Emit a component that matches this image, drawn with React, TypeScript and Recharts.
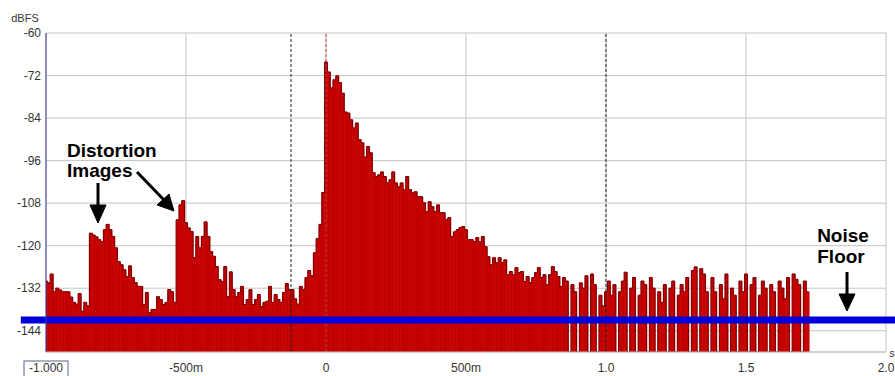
import { ComposedChart, Bar, Line, XAxis, YAxis, CartesianGrid, ReferenceLine } from 'recharts'

// sample grid of the impulse response (seconds)
const T0 = -1.0
const DT = 0.01

// level per 10 ms slot, dBFS (-150 = below the floor)
const preNoise = [-130, -130.5, -128, -133, -132, -132.5, -133, -133, -133, -134.5, -136, -136.5, -133.5, -138.5, -136, -137]
const firstImage = [
  -116.5, -117, -117.5, -118.3, -118.9, -115.5, -114, -115.5, -117.4, -120.6, -124.5, -125.4, -126.8, -128.7, -125.7,
  -129, -130.4, -131.5, -131.5, -136.6, -133.2, -138.9, -138, -138, -134.4, -135.2, -136.6, -136, -132.4, -133, -136,
]
const secondImage = [
  -112.7, -108.5, -107.3, -113.5, -115, -116, -123.4, -117.4, -120.6, -117.4, -113.3, -117.4, -121.7, -123, -125.9,
  -129.6, -130.1, -125.9, -134.4, -127.4, -132.4, -134.4, -133.2, -131.5, -136.6, -135.2, -132.4, -136.6, -135.2,
  -133.8, -137.2, -136, -135.7, -131.5, -136, -133.8, -135.2, -136, -133.2, -130.7, -132.4,
]
const preOnset = [-132.4, -135, -136.5, -131.5, -132.4, -129, -127, -128.5, -122, -118, -114, -105]
const mainDecay = [
  -68.2, -71, -75.5, -73.2, -72.1, -74, -77, -82.3, -82.6, -84.5, -86.8, -85.4, -90.1, -91, -95, -92, -93.8, -99.4,
  -100.5, -100, -99.2, -100.5, -102.3, -101.4, -99.2, -102.3, -103.4, -102.3, -104.2, -100.5, -104.2, -105.1, -104.8,
  -106.2, -106.2, -107.9, -110.4, -107.6, -109, -110.4, -108.5, -110.7,
]
const lateDecay = [
  -110.7, -112.7, -112.1, -117.4, -116.1, -115.5, -114.9, -114.6, -115.5, -118.3, -118.3, -118.9, -117.7, -118.9,
  -117.4, -120.3, -123.1, -125.4, -123.4, -124.8, -123.4, -124.8, -124, -128.2, -127.3, -128.2, -126.2, -127.6, -127.3,
  -130.1, -128.7, -130.4, -129, -127.6, -126.2, -129, -128.2, -131, -128.2, -125.9, -127.3, -128.7,
]
const noiseTail = [
  -131.5, -129, -130, -150, -131, -133, -150, -130.5, -132, -128.5, -150, -128, -131, -150, -134, -137, -133, -130,
  -134, -131, -150, -133, -130, -127.5, -150, -132, -129, -150, -134, -130, -131, -150, -129, -132, -150, -133, -136,
  -131, -150, -132, -130, -150, -134, -131, -133, -129, -150, -127, -126, -150, -126.5, -128, -133, -150, -129, -133,
  -150, -131, -135, -128, -150, -132, -134, -150, -130, -133, -128, -150, -131, -129, -150, -134, -130, -132, -150,
  -131, -133, -150, -130, -132, -135, -129, -150, -128, -129.5, -131, -150, -130, -133,
]

const levels = [...preNoise, ...firstImage, ...secondImage, ...preOnset, ...mainDecay, ...lateDecay, ...noiseTail]
const data = levels.map((v, i) => ({ t: +(T0 + i * DT).toFixed(2), v }))

const FLOOR = -150
const NOISE_FLOOR = -141
const X_TICKS = [-1, -0.5, 0, 0.5, 1, 1.5, 2]
const X_LABELS = ['-1.000', '-500m', '0', '500m', '1.0', '1.5', '2.0']
const Y_TICKS = [-144, -132, -120, -108, -96, -84, -72, -60]
const CURSORS = [-0.125, 1.0]

const FONT = '"Liberation Sans", Arial, sans-serif'

function XTick(props: any) {
  const { x, y, payload } = props
  const idx = X_TICKS.indexOf(payload.value)
  const label = idx >= 0 ? X_LABELS[idx] : String(payload.value)
  return (
    <g>
      {idx === 0 && <rect x={x - 22} y={y + 1} width={44} height={16} fill="#fff" stroke="#56648c" />}
      <text x={x} y={y + 12} textAnchor="middle" fontSize={12} fill="#333" fontFamily={FONT}>
        {label}
      </text>
    </g>
  )
}

function YTick(props: any) {
  const { y, payload } = props
  return (
    <text x={41} y={y + 4} textAnchor="end" fontSize={12} fill="#333" fontFamily={FONT}>
      {payload.value}
    </text>
  )
}

export default function App() {
  return (
    <div style={{ position: 'absolute', left: 0, top: 0, width: 895, height: 376, background: '#fff', fontFamily: FONT }}>
      <ComposedChart
        width={895}
        height={376}
        data={data}
        margin={{ top: 33, right: 9, left: 0, bottom: 0 }}
        barCategoryGap={0}
        barGap={0}
      >
        <CartesianGrid stroke="#c4c4c4" />
        <XAxis
          dataKey="t"
          type="number"
          domain={[-1, 2]}
          ticks={X_TICKS}
          allowDataOverflow
          height={24}
          tickLine={false}
          axisLine={{ stroke: '#c4c4c4' }}
          tick={<XTick />}
          interval={0}
        />
        <YAxis
          type="number"
          domain={[FLOOR, -60]}
          ticks={Y_TICKS}
          allowDataOverflow
          width={46}
          tickLine={false}
          axisLine={{ stroke: '#3a3aa8' }}
          tick={<YTick />}
          interval={0}
        />
        <Bar
          dataKey={(d: any) => [FLOOR, d.v]}
          fill="#c40000"
          stroke="#c40000"
          strokeWidth={0.6}
          isAnimationActive={false}
        />
        <Line
          type="step"
          dataKey="v"
          stroke="#780000"
          strokeWidth={1}
          dot={false}
          isAnimationActive={false}
        />
        {CURSORS.map(c => (
          <ReferenceLine key={c} x={c} stroke="#222" strokeDasharray="3 2" />
        ))}
        <ReferenceLine x={0} stroke="#b84040" strokeDasharray="3 2" />
        <ReferenceLine
          segment={[{ x: -1.09, y: NOISE_FLOOR }, { x: 2.04, y: NOISE_FLOOR }]}
          stroke="#0000dd"
          strokeWidth={7}
          ifOverflow="visible"
        />
      </ComposedChart>
      <svg width={895} height={376} style={{ position: 'absolute', left: 0, top: 0, pointerEvents: 'none' }}>
        <text x={25} y={22} textAnchor="middle" fontSize={11} fill="#333" fontFamily={FONT}>dBFS</text>
        <text x={892} y={357} textAnchor="middle" fontSize={10} fill="#333" fontFamily={FONT}>s</text>
        <g fontFamily={FONT} fontWeight="bold" fontSize={19} fill="#000">
          <text x={67} y={157}>Distortion</text>
          <text x={67} y={177}>Images</text>
          <text x={843} y={242} textAnchor="middle">Noise</text>
          <text x={841} y={263} textAnchor="middle">Floor</text>
        </g>
        <g stroke="#000" strokeWidth={3} fill="#000">
          <line x1={98} y1={183} x2={98} y2={208} />
          <polygon points="90,205 106,205 98,223" strokeWidth={1} />
          <line x1={137} y1={172} x2={164} y2={200} />
          <polygon points="157,205 169,194 174,211" strokeWidth={1} />
          <line x1={847} y1={272} x2={847} y2={297} />
          <polygon points="839,294 855,294 847,311" strokeWidth={1} />
        </g>
      </svg>
    </div>
  )
}
